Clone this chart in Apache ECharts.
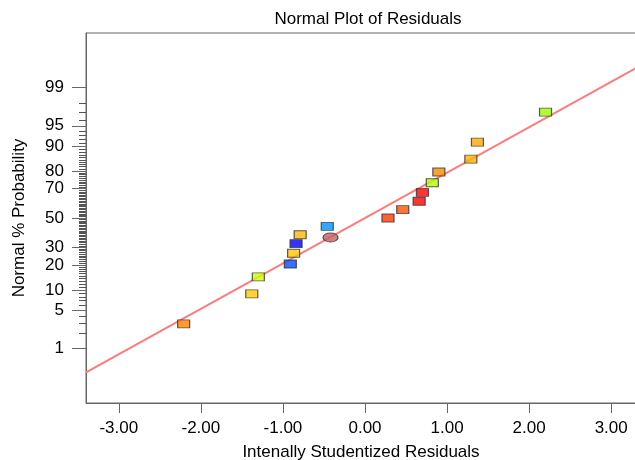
<!DOCTYPE html>
<html>
<head>
<meta charset="utf-8">
<script src="https://cdn.jsdelivr.net/npm/echarts@6/dist/echarts.min.js"></script>
<style>html,body{margin:0;padding:0;background:#fff}#c{width:635px;height:460px}</style>
</head>
<body>
<div id="c"></div>
<script>
// ---- data ----
const chartTitle = 'Normal Plot of Residuals';
const xAxisTitle = 'Intenally Studentized Residuals';
const yAxisTitle = 'Normal % Probability';
const xTickValues = [-3, -2, -1, 0, 1, 2, 3];
const yTickPercents = [1, 5, 10, 20, 30, 50, 70, 80, 90, 95, 99];
const residuals = [-2.21, -1.38, -1.30, -0.91, -0.87, -0.84, -0.79, -0.46, 0.28, 0.46, 0.66, 0.70, 0.82, 0.90, 1.29, 1.37, 2.20];
const probabilities = [2.94, 8.82, 14.71, 20.59, 26.47, 32.35, 38.24, 44.12, 50.00, 55.88, 61.76, 67.65, 73.53, 79.41, 85.29, 91.18, 97.06];
const markerResidual = [-0.42];
const markerProbability = [36.4];
const fitSlope = 0.81;      // probit units per residual unit
const fitIntercept = 0.0;

// ---- styles ----
const pointColors = ['#ff8000', '#ffcc00', '#ccff00', '#0050ff', '#ffc800', '#0000ff', '#ffb800', '#0090ff',
  '#ff3c00', '#ff5000', '#ff0000', '#ff0000', '#b0ff00', '#ff8800', '#ffb000', '#ffaa00', '#99ff00'];

// inverse standard normal CDF (probability scale transform)
function probit(p) {
  const a = [-3.969683028665376e+01, 2.209460984245205e+02, -2.759285104469687e+02, 1.383577518672690e+02, -3.066479806614716e+01, 2.506628277459239e+00];
  const b = [-5.447609879822406e+01, 1.615858368580409e+02, -1.556989798598866e+02, 6.680131188771972e+01, -1.328068155288572e+01];
  const c = [-7.784894002430293e-03, -3.223964580411365e-01, -2.400758277161838e+00, -2.549732539343734e+00, 4.374664141464968e+00, 2.938163982698783e+00];
  const d = [7.784695709041462e-03, 3.224671290700398e-01, 2.445134137142996e+00, 3.754408661907416e+00];
  const pl = 0.02425, ph = 1 - pl;
  let q, r;
  if (p < pl) { q = Math.sqrt(-2 * Math.log(p)); return (((((c[0]*q+c[1])*q+c[2])*q+c[3])*q+c[4])*q+c[5]) / ((((d[0]*q+d[1])*q+d[2])*q+d[3])*q+1); }
  if (p > ph) { q = Math.sqrt(-2 * Math.log(1 - p)); return -(((((c[0]*q+c[1])*q+c[2])*q+c[3])*q+c[4])*q+c[5]) / ((((d[0]*q+d[1])*q+d[2])*q+d[3])*q+1); }
  q = p - 0.5; r = q * q;
  return (((((a[0]*r+a[1])*r+a[2])*r+a[3])*r+a[4])*r+a[5])*q / (((((b[0]*r+b[1])*r+b[2])*r+b[3])*r+b[4])*r+1);
}
const z = pct => probit(pct / 100);

const minorPercents = [];
for (let p = 2; p <= 98; p++) if (yTickPercents.indexOf(p) < 0) minorPercents.push(p);

const majorZ = yTickPercents.map(z);
const minorZ = minorPercents.map(z);
const labelByZ = {};
majorZ.forEach((v, i) => { labelByZ[v.toFixed(6)] = String(yTickPercents[i]); });

const X_MIN = -3.4, X_MAX = 3.4, Y_MIN = -3.3, Y_MAX = 3.3;
const FONT = 'Liberation Sans, Arial, sans-serif';
const FS = 17;
const axisColor = '#666';

const pointData = residuals.map((r, i) => ({
  value: [r, z(probabilities[i])],
  itemStyle: { color: pointColors[i] }
}));
const markerData = markerResidual.map((r, i) => [r, z(markerProbability[i])]);
const lineData = [X_MIN, X_MAX].map(x => [x, fitIntercept + fitSlope * x]);

const chart = echarts.init(document.getElementById('c'), null, { renderer: 'canvas' });
chart.setOption({
  animation: false,
  backgroundColor: '#fff',
  title: {
    text: chartTitle, left: 363, top: 6, textAlign: 'center',
    textStyle: { fontFamily: FONT, fontSize: FS, fontWeight: 'normal', color: '#000' }
  },
  grid: { left: 86, top: 33, right: -9, bottom: 57, show: true, borderColor: axisColor, borderWidth: 1,
    backgroundColor: 'transparent', outerBoundsMode: 'none', containLabel: false },
  xAxis: {
    type: 'value', min: X_MIN, max: X_MAX,
    name: xAxisTitle, nameLocation: 'middle', nameGap: 41,
    nameTextStyle: { fontFamily: FONT, fontSize: FS, color: '#000', padding: [0, 8, 0, 0] },
    axisLine: { show: true, onZero: false, lineStyle: { color: axisColor, width: 1 } },
    axisTick: { show: true, customValues: xTickValues, length: 10, inside: false, lineStyle: { color: axisColor } },
    axisLabel: { customValues: xTickValues, margin: 17, fontFamily: FONT, fontSize: FS, color: '#000',
      formatter: v => v.toFixed(2) },
    splitLine: { show: false }
  },
  yAxis: [{
    type: 'value', min: Y_MIN, max: Y_MAX, position: 'left',
    name: yAxisTitle, nameLocation: 'middle', nameGap: 58,
    nameTextStyle: { fontFamily: FONT, fontSize: FS, color: '#000' },
    axisLine: { show: true, onZero: false, lineStyle: { color: axisColor, width: 1 } },
    axisTick: { show: true, customValues: majorZ, length: 14, lineStyle: { color: axisColor } },
    axisLabel: { customValues: majorZ, margin: 22, fontFamily: FONT, fontSize: FS, color: '#000',
      formatter: v => labelByZ[v.toFixed(6)] || '' },
    splitLine: { show: false }
  }, {
    type: 'value', min: Y_MIN, max: Y_MAX, position: 'left', offset: 0,
    axisLine: { show: false, onZero: false },
    axisTick: { show: true, customValues: minorZ, length: 7, lineStyle: { color: '#555' } },
    axisLabel: { show: false },
    splitLine: { show: false }
  }],
  series: [{
    type: 'line', data: lineData, showSymbol: false, silent: true, z: 1,
    lineStyle: { color: '#ff7b7b', width: 2 }
  }, {
    type: 'scatter', data: pointData, symbol: 'rect', symbolSize: [12, 8], z: 3,
    itemStyle: { borderColor: '#333', borderWidth: 1 }
  }, {
    type: 'scatter', data: markerData, z: 2,
    symbol: 'path://M0,5a10,5 0 1,0 20,0a10,5 0 1,0 -20,0z', symbolSize: [15, 9],
    itemStyle: { color: '#c46060', borderColor: '#333', borderWidth: 1 }
  }]
});
</script>
</body>
</html>
